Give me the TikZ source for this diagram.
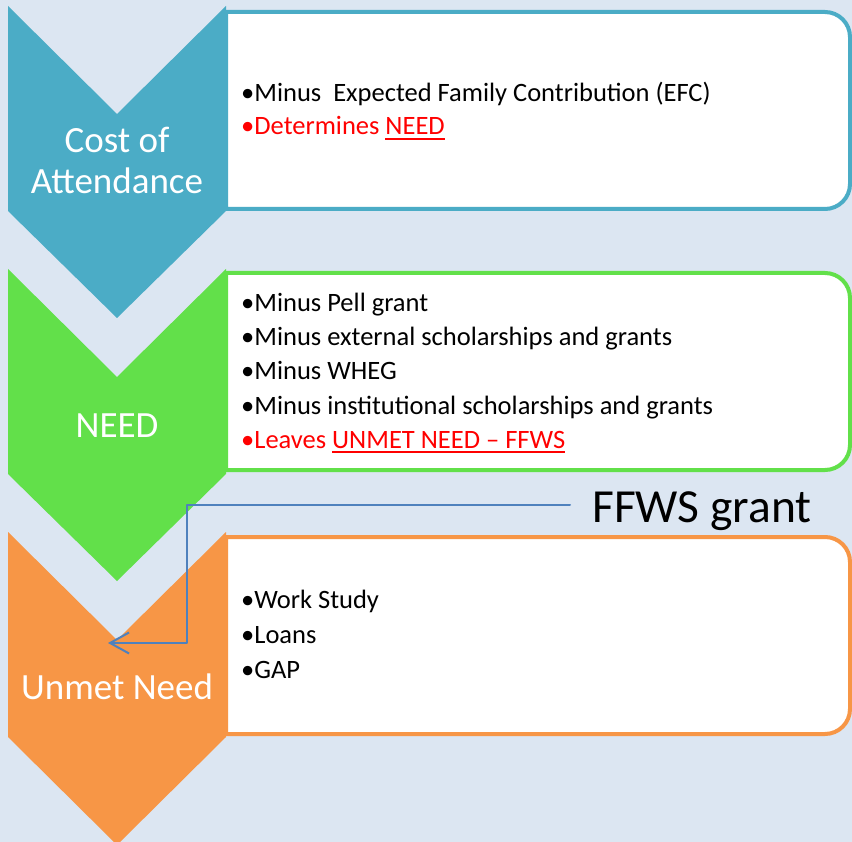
\documentclass[tikz,border=0pt]{standalone}
\usepackage{fontspec}
\setmainfont{Carlito}
\usepackage{tikz}
\usetikzlibrary{arrows.meta}
\definecolor{bgblue}{HTML}{DCE6F2}
\definecolor{coablue}{HTML}{4BACC6}
\definecolor{needgreen}{HTML}{62E04A}
\definecolor{unmetorange}{HTML}{F79646}
\definecolor{linkblue}{HTML}{4F81BD}
\definecolor{alertred}{HTML}{FF0000}
\newcommand{\redunder}[1]{\setbox0\hbox{#1}\rlap{\vrule width\wd0 height-3pt depth5pt}\box0}
\tikzset{
  stagebox/.style={line width=4pt,fill=white},
  stagelabel/.style={text=white,font=\fontsize{37}{41}\selectfont,align=center,inner sep=0pt},
  itemtext/.style={anchor=base west,font=\fontsize{26.5}{34}\selectfont,inner sep=0pt},
  feedarrow/.style={draw=linkblue,line width=2pt,-{Straight Barb[length=19pt,width=21pt,line width=2pt]}}
}

\begin{document}
\begin{tikzpicture}[line cap=round,line join=round,x=1pt,y=-1pt]
\clip (0,0) rectangle (852,842);
\fill[bgblue] (0,0) rectangle (852,842);
% boxes
\draw[stagebox,draw=coablue] (226,12) [rounded corners=25pt]-- (850,12) -- (850,209) [sharp corners]-- (226,209) -- cycle;
\draw[stagebox,draw=needgreen] (226,273) [rounded corners=25pt]-- (850,273) -- (850,470) [sharp corners]-- (226,470) -- cycle;
\draw[stagebox,draw=unmetorange] (226,537) [rounded corners=25pt]-- (850,537) -- (850,734) [sharp corners]-- (226,734) -- cycle;
% chevrons
\fill[color=coablue] (8,6) -- (117,114) -- (226,6) -- (226,211) -- (117,318) -- (8,211) -- cycle;
\fill[color=needgreen] (8,269) -- (117,377) -- (226,269) -- (226,474) -- (117,581) -- (8,474) -- cycle;
\fill[color=unmetorange] (8,532) -- (117,640) -- (226,532) -- (226,737) -- (117,845) -- (8,737) -- cycle;
\node[stagelabel,anchor=base] (coa) at (117,194) {Cost of\\Attendance};
\node[stagelabel,anchor=base] (needlbl) at (117,437) {NEED};
\node[stagelabel,anchor=base] (unmetlbl) at (117,699) {Unmet Need};
% items
\node[itemtext] (efc) at (241,102) {•Minus\ \ Expected Family Contribution (EFC)};
\node[itemtext,text=alertred] (determ) at (241,135) {•Determines \redunder{NEED}};
\node[itemtext] (pell) at (241,312) {•Minus Pell grant};
\node[itemtext] (extern) at (241,346) {•Minus external scholarships and grants};
\node[itemtext] (wheg) at (241,380) {•Minus WHEG};
\node[itemtext] (instit) at (241,414) {•Minus institutional scholarships and grants};
\node[itemtext,text=alertred] (leaves) at (241,448) {•Leaves \redunder{UNMET NEED – FFWS}};
\node[itemtext] (work) at (241,608) {•Work Study};
\node[itemtext] (loans) at (241,643) {•Loans};
\node[itemtext] (gap) at (241,678) {•GAP};
% grant link
\node[anchor=base west,inner sep=0pt,font=\fontsize{47.5}{50}\selectfont] (grant) at (592,522) {FFWS grant};
\coordinate (grantend) at (570,505);
\coordinate (elbow) at (187,505);
\coordinate (tip) at (108,643);
\draw[feedarrow] (grantend) -- (elbow) |- (tip);
\end{tikzpicture}
\end{document}
